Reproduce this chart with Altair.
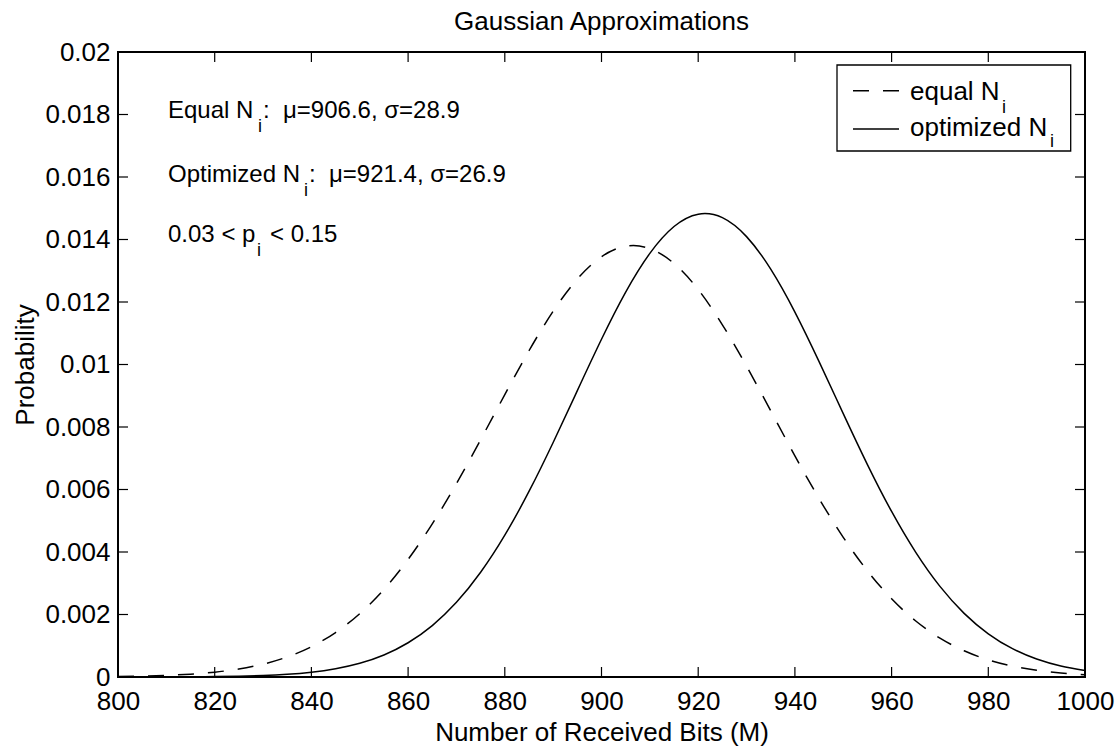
import altair as alt
import pandas as pd

# ---------------- data ----------------
bits = [800, 805, 810, 815, 820, 825, 830, 835, 840, 845, 850, 855, 860, 865, 870,
        875, 880, 885, 890, 895, 900, 905, 910, 915, 920, 925, 930, 935, 940, 945,
        950, 955, 960, 965, 970, 975, 980, 985, 990, 995, 1000]

equal_prob = [0.0000153, 0.0000286, 0.0000517, 0.0000909, 0.000155, 0.000256, 0.000411,
              0.000641, 0.000970, 0.001423, 0.002028, 0.002803, 0.003762, 0.004899,
              0.006190, 0.007592, 0.009037, 0.010440, 0.011704, 0.012736, 0.013449,
              0.013783, 0.013709, 0.013233, 0.012398, 0.011271, 0.009946, 0.008517,
              0.007079, 0.005710, 0.004470, 0.003396, 0.002504, 0.001792, 0.001244,
              0.000839, 0.000548, 0.000348, 0.000215, 0.000128, 0.0000745]

optimized_prob = [0.0000006, 0.0000013, 0.0000028, 0.0000059, 0.0000122, 0.0000241,
                  0.0000462, 0.0000853, 0.000152, 0.000263, 0.000438, 0.000705, 0.001096,
                  0.001646, 0.002389, 0.003350, 0.004538, 0.005937, 0.007505, 0.009163,
                  0.010807, 0.012316, 0.013557, 0.014417, 0.014811, 0.014699, 0.014092,
                  0.013051, 0.011678, 0.010093, 0.008428, 0.006798, 0.005297, 0.003988,
                  0.002899, 0.002037, 0.001383, 0.000906, 0.000574, 0.000351, 0.000208]

x_ticks = [800, 820, 840, 860, 880, 900, 920, 940, 960, 980, 1000]
y_ticks = [0, 0.002, 0.004, 0.006, 0.008, 0.01, 0.012, 0.014, 0.016, 0.018, 0.02]

chart_title = "Gaussian Approximations"
x_title = "Number of Received Bits (M)"
y_title = "Probability"
legend_labels = ["equal N", "optimized N"]
subscript = "i"
ann_main = ["Equal N", "Optimized N", "0.03\u00a0<\u00a0p"]
ann_rest = [":\u00a0\u00a0\u03bc=906.6, \u03c3=28.9", ":\u00a0\u00a0\u03bc=921.4, \u03c3=26.9", "<\u00a00.15"]

# ---------------- layout / style ----------------
W, H = 967, 625
FONT = "Liberation Sans"
DASH = [16, 14]

df_eq = pd.DataFrame({"bits": bits, "prob": equal_prob})
df_opt = pd.DataFrame({"bits": bits, "prob": optimized_prob})
df_xt = pd.DataFrame({"bits": x_ticks})
df_yt = pd.DataFrame({"prob": y_ticks})
one = pd.DataFrame({"k": [0]})

xs = alt.Scale(domain=[800, 1000], nice=False, zero=False)
ys = alt.Scale(domain=[0, 0.02], nice=False, zero=False)

x_axis = alt.Axis(values=x_ticks, format="d", ticks=False, tickSize=0, domain=False,
                  grid=False, labelFont=FONT, labelFontSize=26, labelColor="black",
                  labelPadding=32, labelBaseline="alphabetic", labelFlush=False,
                  labelOverlap=False, labelBound=False,
                  title=x_title, titleFont=FONT, titleFontSize=26, titleFontWeight="normal",
                  titleColor="black", titleX=W / 2, titleY=63, titleAlign="center",
                  titleBaseline="alphabetic")
y_axis = alt.Axis(values=y_ticks, format="~g", ticks=False, tickSize=0, domain=False,
                  grid=False, labelFont=FONT, labelFontSize=26, labelColor="black",
                  labelPadding=8, labelFlush=False, labelOverlap=False, labelBound=False,
                  title=y_title, titleFont=FONT, titleFontSize=26, titleFontWeight="normal",
                  titleColor="black", titleAngle=270, titleX=-85, titleY=H / 2,
                  titleAlign="center", titleBaseline="alphabetic")

X = alt.X("bits:Q", scale=xs, axis=x_axis)
Y = alt.Y("prob:Q", scale=ys, axis=y_axis)

line_eq = alt.Chart(df_eq).mark_line(color="black", strokeWidth=1.5, strokeDash=DASH,
                                     interpolate="natural").encode(x=X, y=Y)
line_opt = alt.Chart(df_opt).mark_line(color="black", strokeWidth=1.5,
                                       interpolate="natural").encode(x=X, y=Y)

TL = 10
tick_style = dict(color="black", strokeWidth=1.2)
ticks_bottom = alt.Chart(df_xt).mark_rule(**tick_style).encode(
    x=X, y=alt.value(H), y2=alt.value(H - TL))
ticks_top = alt.Chart(df_xt).mark_rule(**tick_style).encode(
    x=X, y=alt.value(0), y2=alt.value(TL))
ticks_left = alt.Chart(df_yt).mark_rule(**tick_style).encode(
    y=Y, x=alt.value(0), x2=alt.value(TL))
ticks_right = alt.Chart(df_yt).mark_rule(**tick_style).encode(
    y=Y, x=alt.value(W), x2=alt.value(W - TL))


def txt(s, x, y, size, align="left"):
    return alt.Chart(one).mark_text(text=s, font=FONT, fontSize=size, align=align,
                                    baseline="alphabetic", color="black").encode(
        x=alt.value(x), y=alt.value(y))


title_mark = txt(chart_title, W / 2, -22, 26, align="center")

# annotations
ann_layers = []
ann_base = [66, 130, 190]
ann_sub_x = [140, 186, 139]
ann_rest_x = [145, 191, 152]
for i in range(3):
    ann_layers.append(txt(ann_main[i], 50, ann_base[i], 24))
    ann_layers.append(txt(subscript, ann_sub_x[i], ann_base[i] + 14, 18))
    ann_layers.append(txt(ann_rest[i], ann_rest_x[i], ann_base[i], 24))

# legend
leg_box = alt.Chart(one).mark_rect(fill="white", stroke="black", strokeWidth=1.3).encode(
    x=alt.value(719), x2=alt.value(952.7), y=alt.value(13), y2=alt.value(99))
leg_dash = alt.Chart(one).mark_rule(color="black", strokeWidth=1.4, strokeDash=DASH).encode(
    x=alt.value(735), x2=alt.value(781), y=alt.value(38.7))
leg_solid = alt.Chart(one).mark_rule(color="black", strokeWidth=1.4).encode(
    x=alt.value(735), x2=alt.value(781), y=alt.value(77))
leg_layers = [leg_box, leg_dash, leg_solid,
              txt(legend_labels[0], 792, 48, 26), txt(subscript, 884, 61, 18),
              txt(legend_labels[1], 792, 83.7, 26), txt(subscript, 932, 95, 18)]

chart = alt.layer(
    line_eq, line_opt, ticks_bottom, ticks_top, ticks_left, ticks_right,
    title_mark, *ann_layers, *leg_layers
).properties(
    width=W, height=H,
    autosize=alt.AutoSizeParams(type="none"),
    padding={"left": 118, "top": 52, "right": 35, "bottom": 69},
).configure(background="white").configure_view(stroke="black", strokeWidth=2)

chart.save("out.html", embed_options={"renderer": "svg", "actions": False})
